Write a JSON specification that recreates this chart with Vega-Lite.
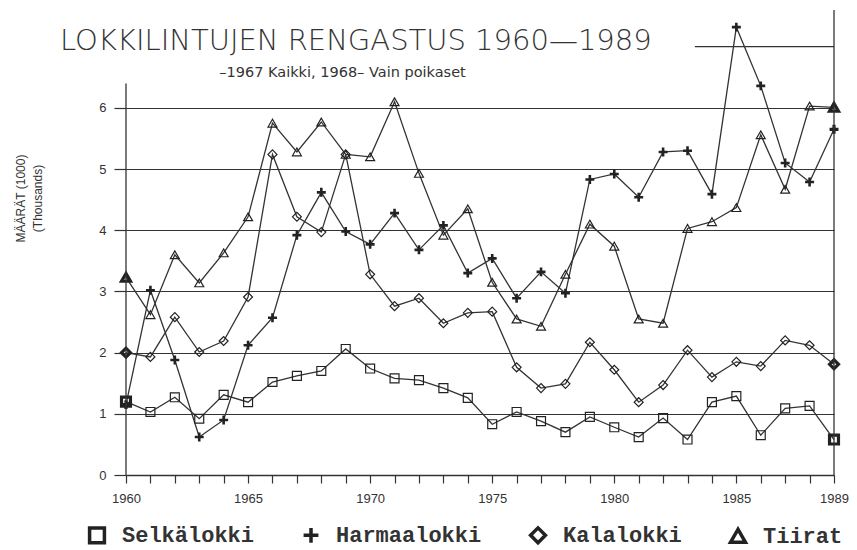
{
  "$schema": "https://vega.github.io/schema/vega-lite/v6.json",
  "width": 708,
  "height": 465,
  "autosize": "none",
  "padding": {"left": 126, "top": 10, "right": 23, "bottom": 75},
  "background": "white",
  "config": {"view": {"stroke": null}, "font": "Liberation Sans"},
  "title": {
    "text": "LOKKILINTUJEN RENGASTUS 1960—1989",
    "anchor": "start",
    "frame": "group",
    "dx": -66,
    "dy": 70,
    "offset": 0,
    "font": "DejaVu Sans",
    "fontWeight": 200,
    "fontSize": 29,
    "color": "#333",
    "baseline": "alphabetic"
  },
  "datasets": {
    "birds": [
      {"year":1960,"species":"Selkälokki","value":1.2},{"year":1961,"species":"Selkälokki","value":1.03},{"year":1962,"species":"Selkälokki","value":1.27},{"year":1963,"species":"Selkälokki","value":0.92},{"year":1964,"species":"Selkälokki","value":1.31},{"year":1965,"species":"Selkälokki","value":1.19},{"year":1966,"species":"Selkälokki","value":1.52},{"year":1967,"species":"Selkälokki","value":1.62},{"year":1968,"species":"Selkälokki","value":1.7},{"year":1969,"species":"Selkälokki","value":2.06},{"year":1970,"species":"Selkälokki","value":1.74},{"year":1971,"species":"Selkälokki","value":1.58},{"year":1972,"species":"Selkälokki","value":1.55},{"year":1973,"species":"Selkälokki","value":1.42},{"year":1974,"species":"Selkälokki","value":1.26},{"year":1975,"species":"Selkälokki","value":0.83},{"year":1976,"species":"Selkälokki","value":1.03},{"year":1977,"species":"Selkälokki","value":0.88},{"year":1978,"species":"Selkälokki","value":0.7},{"year":1979,"species":"Selkälokki","value":0.95},{"year":1980,"species":"Selkälokki","value":0.78},{"year":1981,"species":"Selkälokki","value":0.62},{"year":1982,"species":"Selkälokki","value":0.93},{"year":1983,"species":"Selkälokki","value":0.58},{"year":1984,"species":"Selkälokki","value":1.19},{"year":1985,"species":"Selkälokki","value":1.29},{"year":1986,"species":"Selkälokki","value":0.65},{"year":1987,"species":"Selkälokki","value":1.09},{"year":1988,"species":"Selkälokki","value":1.13},{"year":1989,"species":"Selkälokki","value":0.58},
      {"year":1960,"species":"Harmaalokki","value":1.15},{"year":1961,"species":"Harmaalokki","value":3.02},{"year":1962,"species":"Harmaalokki","value":1.88},{"year":1963,"species":"Harmaalokki","value":0.62},{"year":1964,"species":"Harmaalokki","value":0.9},{"year":1965,"species":"Harmaalokki","value":2.12},{"year":1966,"species":"Harmaalokki","value":2.57},{"year":1967,"species":"Harmaalokki","value":3.92},{"year":1968,"species":"Harmaalokki","value":4.62},{"year":1969,"species":"Harmaalokki","value":3.98},{"year":1970,"species":"Harmaalokki","value":3.77},{"year":1971,"species":"Harmaalokki","value":4.28},{"year":1972,"species":"Harmaalokki","value":3.68},{"year":1973,"species":"Harmaalokki","value":4.08},{"year":1974,"species":"Harmaalokki","value":3.3},{"year":1975,"species":"Harmaalokki","value":3.54},{"year":1976,"species":"Harmaalokki","value":2.89},{"year":1977,"species":"Harmaalokki","value":3.32},{"year":1978,"species":"Harmaalokki","value":2.97},{"year":1979,"species":"Harmaalokki","value":4.83},{"year":1980,"species":"Harmaalokki","value":4.92},{"year":1981,"species":"Harmaalokki","value":4.54},{"year":1982,"species":"Harmaalokki","value":5.28},{"year":1983,"species":"Harmaalokki","value":5.3},{"year":1984,"species":"Harmaalokki","value":4.59},{"year":1985,"species":"Harmaalokki","value":7.32},{"year":1986,"species":"Harmaalokki","value":6.36},{"year":1987,"species":"Harmaalokki","value":5.1},{"year":1988,"species":"Harmaalokki","value":4.79},{"year":1989,"species":"Harmaalokki","value":5.65},
      {"year":1960,"species":"Kalalokki","value":2.0},{"year":1961,"species":"Kalalokki","value":1.93},{"year":1962,"species":"Kalalokki","value":2.58},{"year":1963,"species":"Kalalokki","value":2.01},{"year":1964,"species":"Kalalokki","value":2.19},{"year":1965,"species":"Kalalokki","value":2.91},{"year":1966,"species":"Kalalokki","value":5.24},{"year":1967,"species":"Kalalokki","value":4.22},{"year":1968,"species":"Kalalokki","value":3.97},{"year":1969,"species":"Kalalokki","value":5.24},{"year":1970,"species":"Kalalokki","value":3.28},{"year":1971,"species":"Kalalokki","value":2.76},{"year":1972,"species":"Kalalokki","value":2.89},{"year":1973,"species":"Kalalokki","value":2.48},{"year":1974,"species":"Kalalokki","value":2.65},{"year":1975,"species":"Kalalokki","value":2.67},{"year":1976,"species":"Kalalokki","value":1.76},{"year":1977,"species":"Kalalokki","value":1.42},{"year":1978,"species":"Kalalokki","value":1.49},{"year":1979,"species":"Kalalokki","value":2.17},{"year":1980,"species":"Kalalokki","value":1.72},{"year":1981,"species":"Kalalokki","value":1.19},{"year":1982,"species":"Kalalokki","value":1.47},{"year":1983,"species":"Kalalokki","value":2.04},{"year":1984,"species":"Kalalokki","value":1.6},{"year":1985,"species":"Kalalokki","value":1.85},{"year":1986,"species":"Kalalokki","value":1.78},{"year":1987,"species":"Kalalokki","value":2.2},{"year":1988,"species":"Kalalokki","value":2.12},{"year":1989,"species":"Kalalokki","value":1.81},
      {"year":1960,"species":"Tiirat","value":3.23},{"year":1961,"species":"Tiirat","value":2.62},{"year":1962,"species":"Tiirat","value":3.6},{"year":1963,"species":"Tiirat","value":3.14},{"year":1964,"species":"Tiirat","value":3.63},{"year":1965,"species":"Tiirat","value":4.22},{"year":1966,"species":"Tiirat","value":5.75},{"year":1967,"species":"Tiirat","value":5.28},{"year":1968,"species":"Tiirat","value":5.77},{"year":1969,"species":"Tiirat","value":5.24},{"year":1970,"species":"Tiirat","value":5.2},{"year":1971,"species":"Tiirat","value":6.1},{"year":1972,"species":"Tiirat","value":4.93},{"year":1973,"species":"Tiirat","value":3.92},{"year":1974,"species":"Tiirat","value":4.35},{"year":1975,"species":"Tiirat","value":3.15},{"year":1976,"species":"Tiirat","value":2.55},{"year":1977,"species":"Tiirat","value":2.43},{"year":1978,"species":"Tiirat","value":3.28},{"year":1979,"species":"Tiirat","value":4.1},{"year":1980,"species":"Tiirat","value":3.74},{"year":1981,"species":"Tiirat","value":2.55},{"year":1982,"species":"Tiirat","value":2.48},{"year":1983,"species":"Tiirat","value":4.03},{"year":1984,"species":"Tiirat","value":4.14},{"year":1985,"species":"Tiirat","value":4.37},{"year":1986,"species":"Tiirat","value":5.56},{"year":1987,"species":"Tiirat","value":4.67},{"year":1988,"species":"Tiirat","value":6.03},{"year":1989,"species":"Tiirat","value":6.01}
    ],
    "frameV": [{"year": 1960, "value": 0, "value2": 6.4}, {"year": 1989, "value": 0, "value2": 7.6}],
    "frameH": [{"year": 1983.3, "year2": 1989, "value": 7}]
  },
  "encoding": {
    "x": {
      "field": "year", "type": "quantitative",
      "scale": {"domain": [1960, 1989], "nice": false, "zero": false},
      "axis": {
        "values": [1960,1961,1962,1963,1964,1965,1966,1967,1968,1969,1970,1971,1972,1973,1974,1975,1976,1977,1978,1979,1980,1981,1982,1983,1984,1985,1986,1987,1988,1989],
        "format": "d",
        "labelExpr": "(datum.value % 5 == 0 || datum.value == 1989) ? datum.label : ''",
        "labelFlush": false,
        "labelOverlap": false,
        "labelBound": false,
        "tickSize": 8,
        "tickWidth": 1.2,
        "tickColor": "#333",
        "domainColor": "#333",
        "domainWidth": 1.3,
        "grid": false,
        "labelPadding": 9,
        "labelFont": "Liberation Sans",
        "labelFontSize": 13,
        "labelColor": "#333",
        "title": "–1967 Kaikki, 1968– Vain poikaset",
        "titleX": 216,
        "titleY": -403,
        "titleAlign": "center",
        "titleBaseline": "middle",
        "titleFont": "DejaVu Sans",
        "titleFontSize": 14.5,
        "titleFontWeight": "normal",
        "titleColor": "#333"
      }
    },
    "y": {
      "field": "value", "type": "quantitative",
      "scale": {"domain": [0, 7.6], "nice": false},
      "axis": {
        "values": [0,1,2,3,4,5,6],
        "format": "d",
        "grid": true,
        "gridColor": "#333",
        "gridWidth": 1.2,
        "gridOpacity": 1,
        "domain": false,
        "tickSize": 12,
        "tickColor": "#333",
        "tickWidth": 1.2,
        "labelPadding": 8,
        "labelFont": "Liberation Sans",
        "labelFontSize": 13,
        "labelColor": "#333",
        "title": ["MÄÄRÄT (1000)", "(Thousands)"],
        "titleAngle": -90,
        "titleX": -111,
        "titleY": 188,
        "titleAlign": "center",
        "titleBaseline": "top",
        "titleLineHeight": 17,
        "titleFont": "Liberation Sans",
        "titleFontSize": 12,
        "titleFontWeight": "normal",
        "titleColor": "#333"
      }
    }
  },
  "layer": [
    {
      "data": {"name": "birds"},
      "mark": {"type": "line", "color": "#333", "strokeWidth": 1.3},
      "encoding": {"detail": {"field": "species"}}
    },
    {
      "data": {"name": "birds"},
      "mark": {"type": "point", "filled": false, "color": "#222", "opacity": 1, "size": 80},
      "encoding": {
        "shape": {
          "field": "species", "type": "nominal",
          "scale": {
            "domain": ["Selkälokki", "Harmaalokki", "Kalalokki", "Tiirat"],
            "range": ["square", "M-1,0H1M0,-1V1", "diamond", "triangle-up"]
          },
          "legend": {
            "orient": "none",
            "legendX": -40,
            "legendY": 514,
            "direction": "horizontal",
            "title": null,
            "labelFont": "Liberation Mono",
            "labelFontWeight": "bold",
            "labelFontSize": 22,
            "labelColor": "#333",
            "symbolSize": 220,
            "symbolStrokeWidth": 3.5,
            "symbolStrokeColor": "#222",
            "symbolFillColor": "transparent",
            "columnPadding": 41,
            "labelOffset": 14
          }
        },
        "strokeWidth": {
          "condition": [
            {"test": "datum.year == 1960 || datum.year == 1989", "value": 3.2},
            {"test": "datum.species == 'Harmaalokki'", "value": 2.6}
          ],
          "value": 1.2
        }
      }
    },
    {
      "data": {"name": "frameH"},
      "mark": {"type": "rule", "color": "#333", "strokeWidth": 1.2},
      "encoding": {"x2": {"field": "year2"}}
    },
    {
      "data": {"name": "frameV"},
      "mark": {"type": "rule", "color": "#333", "strokeWidth": 1.3},
      "encoding": {"y2": {"field": "value2"}}
    }
  ]
}
